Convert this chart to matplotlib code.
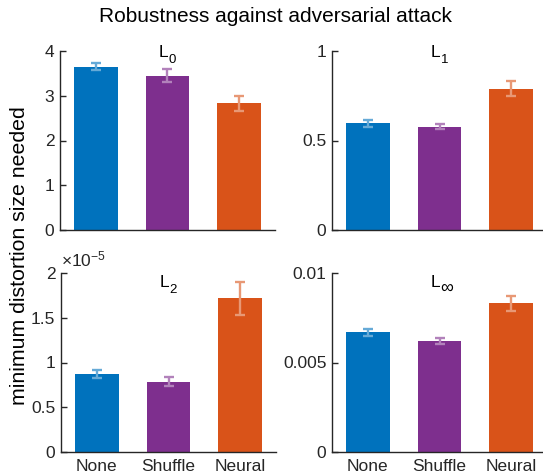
#!/usr/bin/env python3
"""Bar charts of the distortion needed to fool the classifier, per norm."""

import matplotlib

matplotlib.use("Agg")

import matplotlib.pyplot as plt  # noqa: E402
from matplotlib.colors import to_rgb  # noqa: E402
from matplotlib.transforms import offset_copy  # noqa: E402

plt.rcParams["font.family"] = ["Liberation Sans", "DejaVu Sans"]
plt.rcParams["mathtext.fontset"] = "custom"
plt.rcParams["mathtext.rm"] = "Liberation Sans"
plt.rcParams["mathtext.it"] = "Liberation Sans:italic"

conditions = ["None", "Shuffle", "Neural"]
bar_colors = ["#0072BD", "#7E2F8E", "#D95319"]

# norm name is drawn as "L" plus a subscript
norm_subscripts = ["0", "1", "2", "\u221e"]

l0_mean = [3.65, 3.45, 2.83]
l0_err = [0.08, 0.14, 0.17]
l1_mean = [0.595, 0.578, 0.790]
l1_err = [0.020, 0.015, 0.042]
l2_mean = [0.875e-5, 0.787e-5, 1.72e-5]
l2_err = [0.045e-5, 0.048e-5, 0.185e-5]
linf_mean = [0.00668, 0.00619, 0.00830]
linf_err = [0.00019, 0.00018, 0.00040]

y_ticks = [
    [0, 1, 2, 3, 4],
    [0, 0.5, 1],
    [0, 0.5e-5, 1e-5, 1.5e-5, 2e-5],
    [0, 0.005, 0.01],
]
y_tick_labels = [
    ["0", "1", "2", "3", "4"],
    ["0", "0.5", "1"],
    ["0", "0.5", "1", "1.5", "2"],
    ["0", "0.005", "0.01"],
]
# multiplier shown above the axis whose labels are scaled
y_exponent = [None, None, -5, None]

AXIS_COLOR = "#262626"


def lighten(color, amount=0.4):
    r, g, b = to_rgb(color)
    return (r + (1 - r) * amount, g + (1 - g) * amount, b + (1 - b) * amount)


def draw_panel(fig, ax, means, errs, sub, ticks, tick_labels, show_x, title_drop):
    xs = range(1, len(means) + 1)
    ax.bar(xs, means, width=0.61, color=bar_colors, zorder=1)
    for x, m, e, c in zip(xs, means, errs, bar_colors):
        ax.errorbar(x, m, yerr=e, fmt="none", ecolor=lighten(c), elinewidth=1.7,
                    capsize=3.7, capthick=1.7, zorder=2)
    ax.set_xlim(0.5, 3.5)
    ax.set_ylim(ticks[0], ticks[-1])
    ax.set_yticks(ticks)
    ax.set_yticklabels(tick_labels)
    ax.set_xticks(list(xs))
    if show_x:
        ax.set_xticklabels(conditions)
    else:
        ax.set_xticklabels([])
    for side in ("top", "right"):
        ax.spines[side].set_visible(False)
    for side in ("left", "bottom"):
        ax.spines[side].set_color(AXIS_COLOR)
        ax.spines[side].set_linewidth(1.0)
    ax.tick_params(axis="y", direction="in", length=4, width=1, color=AXIS_COLOR,
                   labelcolor=AXIS_COLOR, labelsize=12.5, pad=4)
    ax.tick_params(axis="x", direction="in", length=0, labelcolor=AXIS_COLOR,
                   labelsize=12.5, pad=5)

    # "L" with a lowered subscript, just inside the top of the axes
    base = offset_copy(ax.transAxes, fig=fig, x=1, y=-title_drop, units="dots")
    ax.text(0.5, 1.0, "L", transform=base, ha="right", va="baseline",
            fontsize=12.5, color="black")
    low = offset_copy(ax.transAxes, fig=fig, x=1, y=-title_drop - 6, units="dots")
    ax.text(0.5, 1.0, sub, transform=low, ha="left", va="baseline",
            fontsize=13 if sub == "\u221e" else 9.5, color="black")


def main():
    fig = plt.figure(figsize=(5.43, 4.75), dpi=100)
    w, h = 215 / 543, 179 / 475
    positions = [
        (60 / 543, 1 - 230 / 475),
        (332 / 543, 1 - 230 / 475),
        (61 / 543, 1 - 452 / 475),
        (332 / 543, 1 - 452 / 475),
    ]
    data = [(l0_mean, l0_err), (l1_mean, l1_err), (l2_mean, l2_err), (linf_mean, linf_err)]

    for i, ((left, bottom), (means, errs)) in enumerate(zip(positions, data)):
        ax = fig.add_axes([left, bottom, w, h])
        draw_panel(fig, ax, means, errs, norm_subscripts[i], y_ticks[i], y_tick_labels[i],
                   show_x=i >= 2, title_drop=6 if i < 2 else 14)
        if y_exponent[i] is not None:
            ax.text(0.0, 1.02, r"$\times$10$^{%d}$" % y_exponent[i], transform=ax.transAxes,
                    ha="left", va="bottom", fontsize=12.5, color=AXIS_COLOR)

    fig.text(0.507, 1 - 16 / 475, "Robustness against adversarial attack",
             ha="center", va="center", fontsize=15)
    fig.text(20 / 543, 1 - 256 / 475, "minimum distortion size needed",
             ha="center", va="center", rotation=90, fontsize=15.3)

    fig.savefig("out.png", dpi=100)
    plt.close(fig)


if __name__ == "__main__":
    main()
